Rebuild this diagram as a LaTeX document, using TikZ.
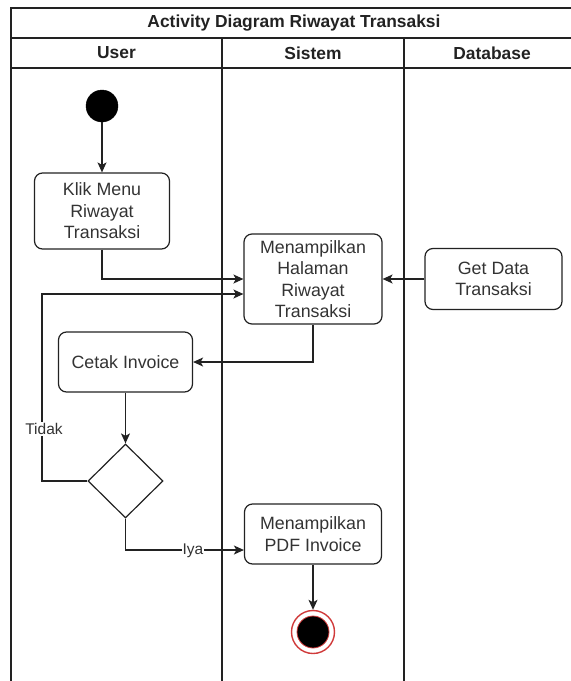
\documentclass[tikz,border=0pt]{standalone}
\usepackage{fontspec}
\setmainfont{Liberation Sans}
\usetikzlibrary{arrows.meta,shapes.geometric,calc}

\definecolor{ink}{HTML}{222222}
\definecolor{txt}{HTML}{333333}
\definecolor{endred}{HTML}{D03A3A}

\begin{document}
\begin{tikzpicture}[x=1pt,y=-1pt,
  lane/.style={draw=ink, line width=1.3pt},
  act/.style={draw=ink, line width=1.2pt, rounded corners=8pt, align=center,
    inner sep=0pt, text=txt, font=\fontsize{17.8}{21.5}\selectfont},
  head/.style={text=ink, font=\fontsize{17.4}{20}\selectfont\bfseries},
  flow/.style={draw=ink, line width=1.2pt,
    -{Stealth[length=10pt,width=9pt,inset=2.5pt]}},
  lbl/.style={fill=white, inner sep=1pt, text=txt,
    font=\fontsize{15.5}{18}\selectfont},
  startstate/.style={circle, fill=black, draw=black, minimum size=32pt, inner sep=0pt},
]
\useasboundingbox (0,0) rectangle (571,681);

% swimlane frame
\draw[lane] (11,681) -- (11,8) -- (577,8) -- (577,681);
\draw[lane] (11,38) -- (577,38);
\draw[lane] (11,68) -- (577,68);
\draw[lane] (222,38) -- (222,681);
\draw[lane] (404,38) -- (404,681);

\node[head] (title) at (294,23) {Activity Diagram Riwayat Transaksi};
\node[head] (laneuser) at (116.5,53) {User};
\node[head] (lanesistem) at (313,53) {Sistem};
\node[head] (lanedb) at (492,53) {Database};

% activities
\node[startstate] (start) at (102,106) {};
\node[act, minimum width=135pt, minimum height=76pt] (klik) at (102,211) {Klik Menu\\Riwayat\\Transaksi};
\node[act, minimum width=138pt, minimum height=90pt] (halaman) at (313,279) {Menampilkan\\Halaman\\Riwayat\\Transaksi};
\node[act, minimum width=137pt, minimum height=61pt] (getdata) at (493.5,279) {Get Data\\Transaksi};
\node[act, minimum width=134pt, minimum height=60pt] (cetak) at (125.5,362) {Cetak Invoice};
\node[diamond, draw=ink, line width=1.2pt, inner sep=0pt, minimum width=75pt, minimum height=74pt] (cek) at (125.5,481) {};
\node[act, minimum width=137pt, minimum height=60pt] (pdf) at (313,534) {Menampilkan\\PDF Invoice};

% final state
\node[circle, draw=endred, line width=1.4pt, minimum size=43pt, inner sep=0pt] (end) at (313,632) {};
\node[circle, fill=black, draw=endred, line width=0.8pt, minimum size=32pt, inner sep=0pt] (endcore) at (end.center) {};

% flows
\draw[flow] (start) -- (klik);
\draw[flow] (klik.south) |- (halaman.west);
\draw[flow] (getdata.west) -- (halaman.east);
\draw[flow] (halaman.south) |- (cetak.east);
\draw[flow] (cetak.south) -- (cek.north);
\coordinate (tidakturn) at (42,294);
\draw[flow] (cek.west) -| (tidakturn) -- ([yshift=-15pt]halaman.west);
\node[lbl] (tidaklbl) at (44,429) {Tidak};
\draw[flow] (cek.south) |- ([yshift=-16pt]pdf.west);
\node[lbl] (iyalbl) at (193,551) {Iya};
\draw[flow] (pdf.south) -- (end.north);
\end{tikzpicture}
\end{document}
